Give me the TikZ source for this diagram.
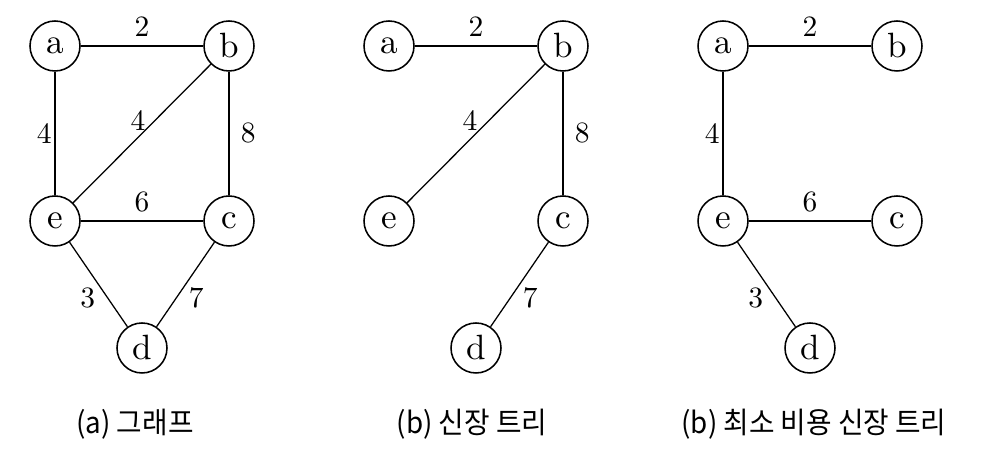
\documentclass[tikz,border=0pt]{standalone}
\usepackage{fontspec}
\usepackage{tikz}
\usetikzlibrary{positioning,calc}
\newfontfamily\krfont[FakeStretch=0.94]{Noto Sans CJK KR}
\newfontfamily\lmten[Extension=.otf]{lmroman10-regular}
\tikzset{
  vtx/.style     = {draw, circle, minimum size=1.25cm, inner sep=0pt, line width=1.1pt, font=\lmten\fontsize{25}{30}\selectfont},
  edge/.style    = {draw, line width=0.9pt},
  wt/.style      = {font=\lmten\fontsize{21}{24}\selectfont, inner sep=2pt},
  captxt/.style  = {font=\krfont\fontsize{21}{24}\selectfont},
}
\begin{document}
\begin{tikzpicture}[on grid, node distance=4.375cm and 4.35cm]
  \useasboundingbox (0,0) rectangle (24.925,11.675);
  % (a) graph
  \node[vtx] (a1) at (1.375,10.525) {a};
  \node[vtx, right=of a1] (b1) {b};
  \node[vtx, below=of a1] (e1) {e};
  \node[vtx, below=of b1] (c1) {c};
  \node[vtx] (d1) at ($(e1)!.5!(c1)+(0,-3.175)$) {d};
  \draw[edge] (a1) -- node[wt, above=4pt] {2} (b1);
  \draw[edge] (a1) -- node[wt, left] {4} (e1);
  \draw[edge] (b1) -- node[wt, above, xshift=-1mm] {4} (e1);
  \draw[edge] (b1) -- node[wt, right=6pt] {8} (c1);
  \draw[edge] (e1) -- node[wt, above=4pt] {6} (c1);
  \draw[edge] (e1) -- node[wt, below left] {3} (d1);
  \draw[edge] (c1) -- node[wt, below right] {7} (d1);
  % (b) spanning tree
  \node[vtx] (a2) at (9.725,10.525) {a};
  \node[vtx, right=of a2] (b2) {b};
  \node[vtx, below=of a2] (e2) {e};
  \node[vtx, below=of b2] (c2) {c};
  \node[vtx] (d2) at ($(e2)!.5!(c2)+(0,-3.175)$) {d};
  \draw[edge] (a2) -- node[wt, above=4pt] {2} (b2);
  \draw[edge] (b2) -- node[wt, above, xshift=-1.5mm] {4} (e2);
  \draw[edge] (b2) -- node[wt, right=6pt] {8} (c2);
  \draw[edge] (c2) -- node[wt, below right] {7} (d2);
  % minimum cost spanning tree
  \node[vtx] (a3) at (18.075,10.525) {a};
  \node[vtx, right=of a3] (b3) {b};
  \node[vtx, below=of a3] (e3) {e};
  \node[vtx, below=of b3] (c3) {c};
  \node[vtx] (d3) at ($(e3)!.5!(c3)+(0,-3.175)$) {d};
  \draw[edge] (a3) -- node[wt, above=4pt] {2} (b3);
  \draw[edge] (a3) -- node[wt, left] {4} (e3);
  \draw[edge] (e3) -- node[wt, above=4pt] {6} (c3);
  \draw[edge] (e3) -- node[wt, below left] {3} (d3);
  % captions
  \node[captxt] (cap1) at (3.375,1.075) {(a) 그래프};
  \node[captxt] (cap2) at (11.8,1.075) {(b) 신장 트리};
  \node[captxt] (cap3) at (20.35,1.075) {(b) 최소 비용 신장 트리};
\end{tikzpicture}
\end{document}
